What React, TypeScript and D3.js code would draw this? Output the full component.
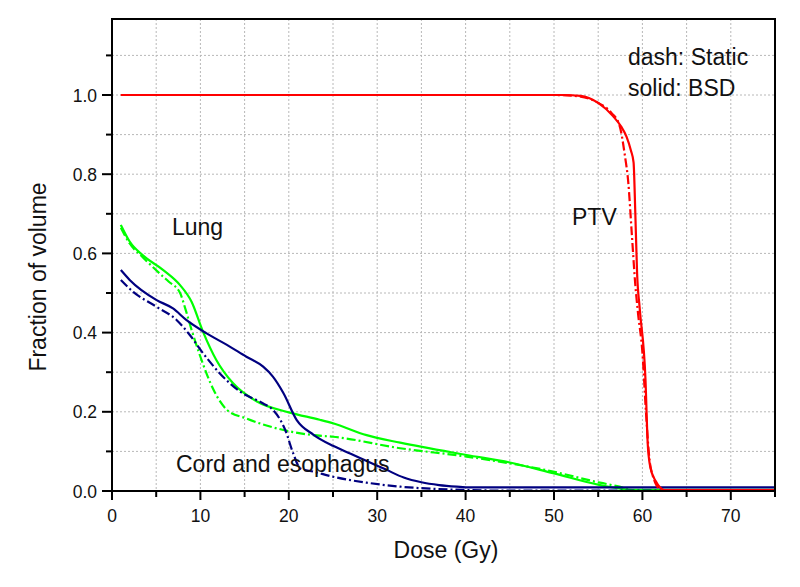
import React from "react";
import * as d3 from "d3";

type P = [number, number];

const xTicks = [0, 10, 20, 30, 40, 50, 60, 70];
const yTicks = [0.0, 0.2, 0.4, 0.6, 0.8, 1.0];

const ptvStatic: P[] = [[1, 1], [50, 1], [53, 0.996], [55, 0.98], [56.5, 0.955], [57.4, 0.924], [58.0, 0.85], [58.4, 0.78], [58.8, 0.65], [59.2, 0.52], [59.5, 0.45], [60.0, 0.35], [60.4, 0.2], [60.8, 0.08], [61.3, 0.03], [62, 0.005], [63, 0], [75, 0]];
const ptvBSD: P[] = [[1, 1], [51, 1], [53, 0.998], [55, 0.98], [56.7, 0.946], [57.6, 0.92], [58.2, 0.895], [58.7, 0.86], [59.0, 0.83], [59.2, 0.7], [59.4, 0.55], [59.7, 0.46], [60.35, 0.28], [60.6, 0.12], [60.9, 0.06], [61.5, 0.025], [62, 0.009], [62.5, 0.002], [75, 0.002]];

const lungStatic: P[] = [[1, 0.665], [2, 0.625], [3.5, 0.59], [5.8, 0.541], [6.4, 0.529], [7.7, 0.5], [8.3, 0.46], [9.0, 0.407], [10, 0.339], [11.5, 0.255], [13, 0.205], [15.2, 0.183], [19.4, 0.154], [22.8, 0.141], [25, 0.137], [32.6, 0.108], [40.1, 0.087], [49.9, 0.049], [55.2, 0.021], [57.4, 0.011], [59, 0.002], [75, 0.002]];
const lungBSD: P[] = [[1, 0.672], [2, 0.63], [3.5, 0.595], [5.8, 0.558], [7.7, 0.52], [9.0, 0.478], [10.3, 0.402], [11.8, 0.331], [13.7, 0.272], [16.4, 0.226], [20.1, 0.198], [23.5, 0.18], [25, 0.171], [28.8, 0.141], [32.6, 0.122], [40.1, 0.091], [45, 0.072], [49.9, 0.045], [55.2, 0.015], [58.9, 0.003], [75, 0.003]];

const cordStatic: P[] = [[1, 0.533], [2.4, 0.503], [5.05, 0.465], [7.3, 0.432], [8.8, 0.394], [10.3, 0.348], [12.2, 0.297], [14.5, 0.251], [17.1, 0.221], [18.2, 0.205], [19.6, 0.154], [20.5, 0.095], [21.3, 0.057], [22.8, 0.049], [25, 0.036], [28.8, 0.021], [32.6, 0.011], [38, 0.004], [45, 0.001], [75, 0.001]];
const cordBSD: P[] = [[1, 0.558], [2, 0.533], [5.05, 0.482], [6.9, 0.461], [8.4, 0.432], [10.7, 0.398], [13, 0.369], [15.2, 0.339], [17.1, 0.314], [18.2, 0.289], [19.4, 0.247], [20.9, 0.179], [22.8, 0.142], [25, 0.114], [27, 0.094], [29, 0.074], [31, 0.054], [33, 0.034], [35, 0.022], [37, 0.015], [39, 0.011], [40.5, 0.009], [75, 0.009]];

const RED = "#ff0000";
const GREEN = "#00ff00";
const NAVY = "#000080";

const series = [
  { data: lungBSD, color: GREEN, dashed: false },
  { data: lungStatic, color: GREEN, dashed: true },
  { data: cordBSD, color: NAVY, dashed: false },
  { data: cordStatic, color: NAVY, dashed: true },
  { data: ptvStatic, color: RED, dashed: true },
  { data: ptvBSD, color: RED, dashed: false },
];

const W = 800, H = 587;
const L = 112, R = 775, T = 19, B = 491;
const FONT = "'Liberation Sans', Arial, sans-serif";

export default function App() {
  const x = d3.scaleLinear().domain([0, 75]).range([L, R]);
  const y = d3.scaleLinear().domain([0, 1]).range([B, 95]);
  const yTop = y.invert(T);
  const line = d3.line<P>().x(d => x(d[0])).y(d => y(d[1])).curve(d3.curveMonotoneX);

  const gridX = d3.range(5, 75, 5);
  const gridY = d3.range(1, Math.floor(yTop * 10) + 1).map(i => i / 10);
  const minorX = d3.range(5, 80, 10);
  const minorY = d3.range(1, 12, 2).map(i => i / 10);

  return (
    <svg width={W} height={H} style={{ position: "absolute", left: 0, top: 0, background: "#fff" }} fontFamily={FONT}>
      <rect x={0} y={0} width={W} height={H} fill="#fff" />
      {gridX.map(v => (
        <line key={"gx" + v} x1={x(v)} x2={x(v)} y1={T} y2={B} stroke="#b8b8b8" strokeWidth={1} strokeDasharray="2,2" />
      ))}
      {gridY.map(v => (
        <line key={"gy" + v} x1={L} x2={R} y1={y(v)} y2={y(v)} stroke="#b8b8b8" strokeWidth={1} strokeDasharray="2,2" />
      ))}
      <defs>
        <clipPath id="plot">
          <rect x={L} y={T} width={R - L} height={B - T + 2} />
        </clipPath>
      </defs>
      <g clipPath="url(#plot)">
        {series.map((s, i) => (
          <path key={i} d={line(s.data) || ""} fill="none" stroke={s.color} strokeWidth={2.2}
            strokeDasharray={s.dashed ? "9,3,2,3" : undefined} strokeLinejoin="round" />
        ))}
      </g>
      <rect x={L} y={T} width={R - L} height={B - T} fill="none" stroke="#000" strokeWidth={2} />
      {xTicks.map(v => (
        <g key={"xt" + v}>
          <line x1={x(v)} x2={x(v)} y1={B} y2={B + 9} stroke="#000" strokeWidth={2} />
          <text x={x(v)} y={522} textAnchor="middle" fontSize={17.5} fill="#111">{v}</text>
        </g>
      ))}
      {minorX.map(v => (
        <line key={"mx" + v} x1={x(v)} x2={x(v)} y1={B} y2={B + 6} stroke="#000" strokeWidth={2} />
      ))}
      {yTicks.map(v => (
        <g key={"yt" + v}>
          <line x1={L - 10} x2={L} y1={y(v)} y2={y(v)} stroke="#000" strokeWidth={2} />
          <text x={97} y={y(v) + 6.5} textAnchor="end" fontSize={17.5} fill="#111">{v.toFixed(1)}</text>
        </g>
      ))}
      {minorY.map(v => (
        <line key={"my" + v} x1={L - 6} x2={L} y1={y(v)} y2={y(v)} stroke="#000" strokeWidth={2} />
      ))}
      <text x={446} y={558} textAnchor="middle" fontSize={23} fill="#111">Dose (Gy)</text>
      <text transform="translate(46,277) rotate(-90)" textAnchor="middle" fontSize={23} fill="#111">Fraction of volume</text>
      <text x={172} y={235} fontSize={23} fill="#111">Lung</text>
      <text x={572} y={225} fontSize={23} fill="#111">PTV</text>
      <text x={176} y={472} fontSize={23} fill="#111">Cord and esophagus</text>
      <text x={628} y={65} fontSize={23} fill="#111">dash: Static</text>
      <text x={628} y={96} fontSize={23} fill="#111">solid: BSD</text>
    </svg>
  );
}
